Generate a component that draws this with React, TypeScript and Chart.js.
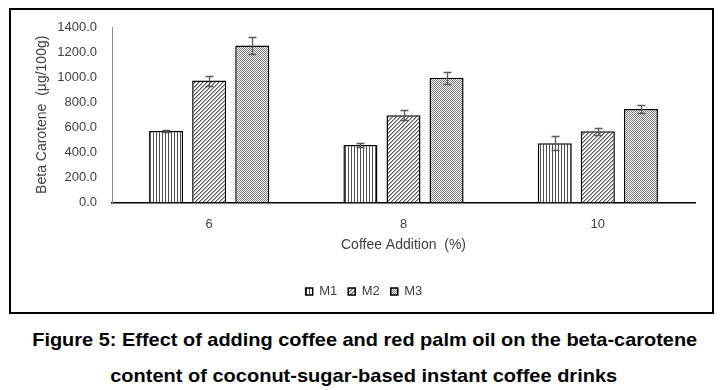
import React, { useEffect, useLayoutEffect, useRef } from 'react';
import { Chart, registerables } from 'chart.js';

Chart.register(...registerables);

const categories = ['6', '8', '10'];
const seriesNames = ['M1', 'M2', 'M3'];
const m1Values = [571, 458, 472];
const m2Values = [973, 697, 569];
const m3Values = [1252, 995, 746];
const m1Errors = [6, 15, 57];
const m2Errors = [40, 38, 28];
const m3Errors = [70, 50, 32];
const yTickValues = [0, 200, 400, 600, 800, 1000, 1200, 1400];
const yTitle = 'Beta Carotene  (\u00b5g/100g)';
const xTitle = 'Coffee Addition  (%)';
const captionLine1 = 'Figure 5: Effect of adding coffee and red palm oil on the beta-carotene';
const captionLine2 = 'content of coconut-sugar-based instant coffee drinks';

const seriesValues = [m1Values, m2Values, m3Values];
const seriesErrors = [m1Errors, m2Errors, m3Errors];

function makePattern(kind: string): CanvasPattern | string {
  const c = document.createElement('canvas');
  if (kind === 'vertical') {
    c.width = 3; c.height = 3;
    const g = c.getContext('2d')!;
    g.fillStyle = '#ffffff'; g.fillRect(0, 0, 3, 3);
    g.fillStyle = '#4f4f4f'; g.fillRect(0, 0, 1, 3);
  } else if (kind === 'diagonal') {
    const n = 4;
    c.width = n; c.height = n;
    const g = c.getContext('2d')!;
    g.fillStyle = '#ffffff'; g.fillRect(0, 0, n, n);
    for (let x = 0; x < n; x++) for (let y = 0; y < n; y++) {
      const k = (x + y) % n;
      if (k === 0) { g.fillStyle = '#5a5a5a'; g.fillRect(x, y, 1, 1); }
      if (k === 1) { g.fillStyle = '#a8a8a8'; g.fillRect(x, y, 1, 1); }
    }
  } else {
    c.width = 2; c.height = 2;
    const g = c.getContext('2d')!;
    g.fillStyle = '#ffffff'; g.fillRect(0, 0, 2, 2);
    g.fillStyle = '#7c7c7c';
    g.fillRect(0, 0, 1, 1); g.fillRect(1, 1, 1, 1);
  }
  const p = c.getContext('2d')!.createPattern(c, 'repeat');
  return p || '#888';
}

const errorBarPlugin = {
  id: 'errorBars',
  afterDatasetsDraw(chart: any) {
    const ctx = chart.ctx;
    const ys = chart.scales.y;
    ctx.save();
    ctx.strokeStyle = '#5a5a5a';
    ctx.lineWidth = 1.3;
    chart.data.datasets.forEach((ds: any, i: number) => {
      const meta = chart.getDatasetMeta(i);
      const errs = seriesErrors[i];
      meta.data.forEach((bar: any, j: number) => {
        const v = ds.data[j];
        const e = errs[j];
        const yt = Math.round(ys.getPixelForValue(v + e)) + 0.5;
        const yb = Math.round(ys.getPixelForValue(v - e)) + 0.5;
        const x = Math.round(bar.x) + 0.5;
        const cap = 4;
        ctx.beginPath();
        ctx.moveTo(x, yt); ctx.lineTo(x, yb);
        ctx.moveTo(x - cap, yt); ctx.lineTo(x + cap, yt);
        ctx.moveTo(x - cap, yb); ctx.lineTo(x + cap, yb);
        ctx.stroke();
      });
    });
    ctx.restore();
  },
};

function FitText({ text, width, center, top }: { text: string; width: number; center: number; top: number }) {
  const ref = useRef<HTMLSpanElement>(null);
  useLayoutEffect(() => {
    const el = ref.current;
    if (!el) return;
    el.style.transform = 'none';
    const w = el.getBoundingClientRect().width;
    const s = width / w;
    el.style.transform = `scaleX(${s})`;
  }, [text, width]);
  return (
    <div style={{ position: 'absolute', left: center - 400, width: 800, top, textAlign: 'center', lineHeight: '19px', height: 19 }}>
      <span
        ref={ref}
        style={{
          display: 'inline-block',
          whiteSpace: 'nowrap',
          font: 'bold 19px "Liberation Sans", Arial, sans-serif',
          color: '#000',
          transformOrigin: 'center',
        }}
      >
        {text}
      </span>
    </div>
  );
}

export default function App() {
  const canvasRef = useRef<HTMLCanvasElement>(null);

  useEffect(() => {
    const canvas = canvasRef.current;
    if (!canvas) return;
    const patterns = [makePattern('vertical'), makePattern('diagonal'), makePattern('checker')];
    const textColor = '#404040';
    const font = '"Liberation Sans", Arial, sans-serif';
    const legendPad = 11;
    const xAxisHeight = 82.5 - legendPad;
    const chart = new Chart(canvas, {
      type: 'bar',
      data: {
        labels: categories,
        datasets: seriesNames.map((name, i) => ({
          label: name,
          data: seriesValues[i],
          backgroundColor: patterns[i] as any,
          borderColor: '#000000',
          borderWidth: 1.5,
          categoryPercentage: 0.665,
          barPercentage: 0.79,
        })),
      },
      options: {
        animation: false,
        responsive: false,
        maintainAspectRatio: false,
        events: [],
        layout: { padding: { left: 33, right: 30, top: 27, bottom: 0 } },
        plugins: {
          tooltip: { enabled: false },
          legend: {
            position: 'bottom',
            labels: {
              boxWidth: 7,
              boxHeight: 7,
              padding: legendPad,
              color: textColor,
              font: { family: font, size: 13 },
            },
          },
        },
        scales: {
          x: {
            grid: { display: false, drawTicks: false },
            border: { display: true, color: '#000000', width: 1.5 },
            ticks: { color: textColor, font: { family: font, size: 13 }, padding: 14 },
            title: {
              display: true,
              text: xTitle,
              color: textColor,
              font: { family: font, size: 14 },
              padding: { top: 0, bottom: xAxisHeight - 51.4 },
            },
            afterFit: (scale: any) => { scale.height = xAxisHeight; },
          },
          y: {
            min: 0,
            max: 1400,
            grid: { display: false, drawTicks: false },
            border: { display: true, color: '#8c8c8c', width: 1 },
            afterBuildTicks: (scale: any) => { scale.ticks = yTickValues.map((v) => ({ value: v })); },
            ticks: {
              color: textColor,
              font: { family: font, size: 13 },
              padding: 15,
              callback: (v: any) => Number(v).toFixed(1),
            },
            title: {
              display: true,
              text: yTitle,
              color: textColor,
              font: { family: font, size: 14 },
              padding: { top: 0.6, bottom: 0 },
            },
            afterFit: (scale: any) => { scale.width = 79; },
          },
        },
      },
      plugins: [errorBarPlugin],
    });
    return () => chart.destroy();
  }, []);

  return (
    <div style={{ position: 'absolute', left: 0, top: 0, width: 725, height: 390, background: '#fff', overflow: 'hidden' }}>
      <canvas ref={canvasRef} width={725} height={308} style={{ position: 'absolute', left: 0, top: 0, width: 725, height: 308 }} />
      <div style={{ position: 'absolute', left: 9, top: 8, width: 705, height: 306, border: '2px solid #000', boxSizing: 'border-box' }} />
      <FitText text={captionLine1} width={665} center={364.5} top={329} />
      <FitText text={captionLine2} width={507} center={363.5} top={365} />
    </div>
  );
}
